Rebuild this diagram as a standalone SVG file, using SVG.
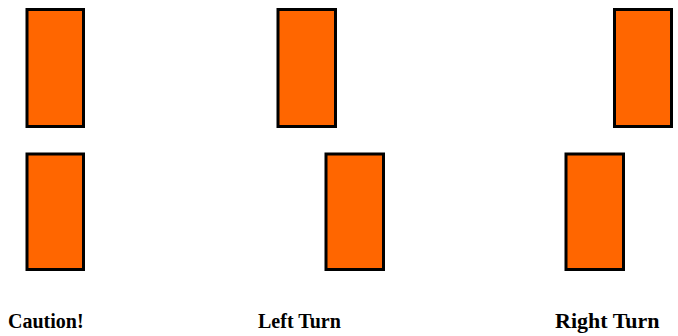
<svg xmlns="http://www.w3.org/2000/svg" width="678" height="336" viewBox="0 0 678 336">
<style>
.light{fill:#ff6600;stroke:#000;stroke-width:3}
.lbl{font-family:"Liberation Serif","Times New Roman",serif;font-weight:bold;font-size:20px;fill:#000}
</style>
<rect width="678" height="336" fill="#fff"/>
<g id="caution">
<rect class="light" x="27" y="9.5" width="56.5" height="117"/>
<rect class="light" x="27" y="154" width="56.5" height="115.5"/>
<text class="lbl" x="8" y="328">Caution!</text>
</g>
<g id="left-turn">
<rect class="light" x="278" y="9.5" width="57.5" height="117"/>
<rect class="light" x="326" y="154" width="57.5" height="115.5"/>
<text class="lbl" x="258" y="328">Left Turn</text>
</g>
<g id="right-turn">
<rect class="light" x="614.5" y="9.5" width="57" height="117"/>
<rect class="light" x="566" y="154" width="57.5" height="115.5"/>
<text class="lbl" x="555" y="328" style="font-size:22px">Right Turn</text>
</g>
<g id="connectors"/>
</svg>
